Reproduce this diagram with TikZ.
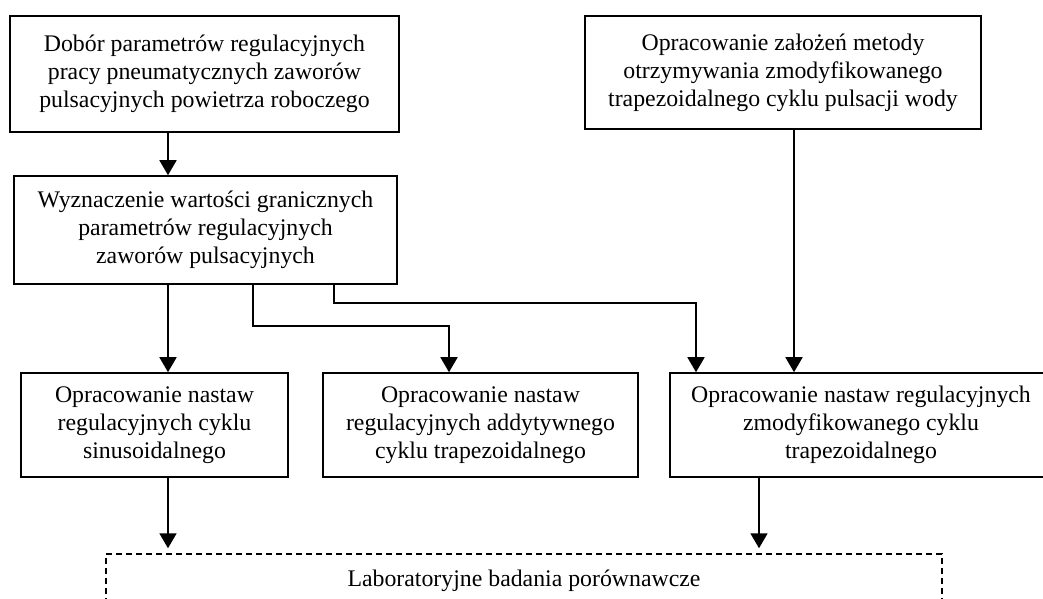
\documentclass[tikz,border=0pt]{standalone}
\usepackage{fontspec}
\setmainfont{Liberation Serif}
\usetikzlibrary{arrows.meta}
\tikzset{
  box/.style={draw, line width=1.6pt, align=center, inner sep=0pt,
    font=\fontsize{23.8pt}{28pt}\selectfont},
  dbox/.style={box, dash pattern=on 6pt off 4pt, line width=1.5pt},
  arr/.style={line width=1.8pt, -{Triangle[length=15pt,width=17pt]}},
}
\begin{document}
\begin{tikzpicture}[x=1pt,y=-1pt]
\useasboundingbox (0,0) rectangle (1043,598);
\clip (0,0) rectangle (1043,598);
\node[box, minimum width=389pt, minimum height=116pt] (b1) at (204.5,74)
  {Dobór parametrów regulacyjnych\\pracy pneumatycznych zaworów\\pulsacyjnych powietrza roboczego};
\node[box, minimum width=383pt, minimum height=108pt] (b2) at (205.5,230)
  {Wyznaczenie wartości granicznych\\parametrów regulacyjnych\\zaworów pulsacyjnych};
\node[box, minimum width=396pt, minimum height=113pt] (b6) at (783,72.5)
  {Opracowanie założeń metody\\otrzymywania zmodyfikowanego\\trapezoidalnego cyklu pulsacji wody};
\node[box, minimum width=267pt, minimum height=104pt] (b3) at (154.5,425)
  {Opracowanie nastaw\\regulacyjnych cyklu\\sinusoidalnego};
\node[box, minimum width=315pt, minimum height=104pt] (b4) at (480.5,425)
  {Opracowanie nastaw\\regulacyjnych addytywnego\\cyklu trapezoidalnego};
\node[box, minimum width=382pt, minimum height=104pt] (b5) at (861,425)
  {Opracowanie nastaw regulacyjnych\\zmodyfikowanego cyklu\\trapezoidalnego};
\node[dbox, minimum width=836pt, minimum height=54pt] (lab) at (524,581)
  {Laboratoryjne badania porównawcze};

\coordinate (xa) at (168,0);
\coordinate (xb) at (253,0);
\coordinate (xc) at (334,0);
\coordinate (xd) at (449,0);
\coordinate (xe) at (696,0);
\coordinate (xf) at (794,0);
\coordinate (xg) at (759,0);
\coordinate (yb) at (0,326);
\coordinate (yc) at (0,303);

\draw[arr] (b1.south -| xa) -- (b2.north -| xa);
\draw[arr] (b2.south -| xa) -- (b3.north -| xa);
\draw[arr] (b2.south -| xb) -- (xb |- yb) -- (xd |- yb) -- (b4.north -| xd);
\draw[arr] (b2.south -| xc) -- (xc |- yc) -- (xe |- yc) -- (b5.north -| xe);
\draw[arr] (b6.south -| xf) -- (b5.north -| xf);
\draw[arr, shorten >=5pt] (b3.south -| xa) -- (lab.north -| xa);
\draw[arr, shorten >=5pt] (b5.south -| xg) -- (lab.north -| xg);
\end{tikzpicture}
\end{document}
